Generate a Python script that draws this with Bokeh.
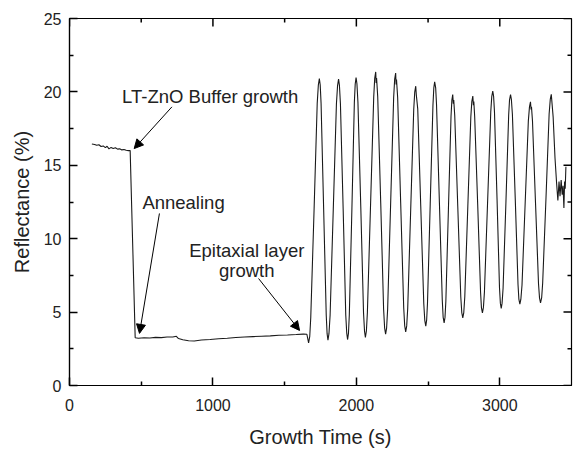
from bokeh.plotting import figure
from bokeh.models import Range1d, Arrow, NormalHead, Label, FixedTicker
from bokeh.embed import file_html
from bokeh.resources import INLINE

# ---- data ----
# LT-ZnO buffer growth plateau
buffer_t = [156, 175, 190, 205, 220, 235, 250, 262, 275, 290, 305, 320, 335, 350,
            365, 380, 395, 410, 423]
buffer_r = [16.45, 16.42, 16.36, 16.40, 16.28, 16.32, 16.20, 16.30, 16.12, 16.22,
            16.15, 16.20, 16.10, 16.12, 16.05, 16.08, 16.02, 16.00, 16.00]

# annealing plateau
anneal_t = [458, 480, 520, 560, 600, 640, 680, 720, 745, 760, 790, 830, 870, 920,
            980, 1040, 1100, 1160, 1220, 1280, 1340, 1400, 1460, 1520, 1580, 1630,
            1655, 1667]
anneal_r = [3.25, 3.22, 3.25, 3.24, 3.28, 3.26, 3.30, 3.30, 3.35, 3.20, 3.12, 3.05,
            3.03, 3.10, 3.13, 3.18, 3.22, 3.27, 3.30, 3.33, 3.36, 3.38, 3.42, 3.44,
            3.47, 3.50, 3.49, 2.90]

# epitaxial layer growth oscillations
epi_t = [1675, 1682, 1705, 1727, 1735, 1742,
         1748, 1754, 1772, 1790, 1796, 1802,
         1809, 1817, 1839, 1861, 1869, 1876,
         1882, 1889, 1908, 1926, 1933, 1939,
         1945, 1951, 1969, 1986, 1992, 1998,
         2004, 2011, 2031, 2050, 2057, 2063,
         2070, 2077, 2099, 2121, 2128, 2135, 2138, 2141,
         2149, 2170, 2190, 2197, 2204,
         2211, 2218, 2239, 2260, 2267, 2274, 2277, 2280,
         2288, 2309, 2330, 2337, 2344,
         2351, 2358, 2379, 2400, 2407, 2414, 2418,
         2428, 2449, 2470, 2477, 2484,
         2490, 2496, 2515, 2534, 2540, 2546,
         2553, 2559, 2579, 2599, 2605, 2612,
         2618, 2624, 2642, 2660, 2666, 2672, 2676,
         2679, 2686, 2707, 2728, 2735, 2742,
         2749, 2756, 2777, 2798, 2805, 2812, 2816,
         2819, 2825, 2846, 2866, 2872, 2879,
         2886, 2893, 2915, 2937, 2944, 2951,
         2957, 2963, 2981, 2998, 3004, 3010,
         3016, 3023, 3043, 3062, 3068, 3075,
         3081, 3088, 3108, 3127, 3133, 3140,
         3147, 3155, 3177, 3199, 3207, 3214, 3218,
         3221, 3228, 3249, 3270, 3277, 3284,
         3292, 3299, 3322, 3344, 3352, 3359,
         3372, 3385, 3396, 3405, 3413, 3420, 3428, 3435, 3441, 3447, 3452, 3456, 3461]
epi_r = [3.34, 4.61, 11.90, 19.20, 20.47, 20.91,
         20.47, 19.22, 12.00, 4.78, 3.53, 3.09,
         3.53, 4.78, 11.98, 19.18, 20.43, 20.87,
         20.44, 19.18, 12.00, 4.82, 3.56, 3.13,
         3.57, 4.83, 12.06, 19.28, 20.54, 20.98,
         20.55, 19.30, 12.12, 4.95, 3.70, 3.27,
         3.71, 4.99, 12.32, 19.64, 20.92, 21.36, 20.60, 20.95,
         19.66, 12.42, 5.19, 3.93, 3.49,
         3.93, 5.18, 12.39, 19.60, 20.85, 21.29, 20.50, 20.85,
         19.61, 12.47, 5.33, 4.08, 3.65,
         4.06, 5.24, 12.02, 18.80, 19.98, 20.39, 19.80,
         18.84, 12.21, 5.59, 4.44, 4.04,
         4.45, 5.62, 12.36, 19.10, 20.27, 20.68,
         20.28, 19.12, 12.47, 5.82, 4.66, 4.26,
         4.64, 5.74, 12.04, 18.34, 19.44, 19.82, 19.20,
         19.45, 18.37, 12.21, 6.05, 4.97, 4.60,
         4.97, 6.04, 12.16, 18.27, 19.34, 19.71, 19.10,
         19.35, 18.31, 12.33, 6.35, 5.31, 4.95,
         5.32, 6.38, 12.50, 18.62, 19.68, 20.05,
         19.69, 18.64, 12.65, 6.66, 5.61, 5.25,
         5.61, 6.63, 12.54, 18.44, 19.46, 19.82,
         19.47, 18.46, 12.68, 6.90, 5.89, 5.54,
         5.88, 6.85, 12.43, 18.01, 18.98, 19.32, 18.80,
         18.98, 18.02, 12.47, 6.93, 5.97, 5.63,
         5.98, 6.98, 12.74, 18.49, 19.49, 19.84,
         18.30, 15.50, 13.80, 12.60, 13.90, 12.90, 14.00, 13.00, 13.60, 12.10, 13.90,
         13.40, 14.90]

time_s = buffer_t + anneal_t + epi_t
reflectance_pct = buffer_r + anneal_r + epi_r

x_ticks = [0, 1000, 2000, 3000]
x_minor = [500, 1500, 2500]
y_ticks = [0, 5, 10, 15, 20, 25]
y_minor = [2.5, 7.5, 12.5, 17.5, 22.5]
X_MIN, X_MAX = 0, 3500
Y_MIN, Y_MAX = 0, 25

FONT = "Liberation Sans"

W, H = 575, 450
BL, BR, BT, BB = 69, 4, 18, 65
FRAME_W = W - BL - BR
FRAME_H = H - BT - BB

p = figure(width=W, height=H, x_range=Range1d(X_MIN, X_MAX),
           y_range=Range1d(Y_MIN, Y_MAX),
           output_backend="svg", toolbar_location=None,
           min_border_left=BL, min_border_right=BR, min_border_top=BT,
           min_border_bottom=BB)
p.xgrid.visible = False
p.ygrid.visible = False
p.outline_line_color = "black"
p.outline_line_width = 1.2
p.background_fill_color = "white"
p.border_fill_color = "white"

p.line(time_s, reflectance_pct, line_color="#1a1a1a", line_width=1.1)

# inward ticks on top and right sides, lengths given in pixels
MAJ_PX, MIN_PX = 8, 4
dy_maj = MAJ_PX * (Y_MAX - Y_MIN) / FRAME_H
dy_min = MIN_PX * (Y_MAX - Y_MIN) / FRAME_H
dx_maj = MAJ_PX * (X_MAX - X_MIN) / FRAME_W
dx_min = MIN_PX * (X_MAX - X_MIN) / FRAME_W
TICK = dict(line_color="black", line_width=1.5)

def vticks(xs, y0, y1):
    p.segment(x0=xs, x1=xs, y0=[y0] * len(xs), y1=[y1] * len(xs), **TICK)

def hticks(ys, x0, x1):
    p.segment(x0=[x0] * len(ys), x1=[x1] * len(ys), y0=ys, y1=ys, **TICK)

vticks(x_ticks, Y_MAX, Y_MAX - dy_maj)
vticks(x_minor, Y_MAX, Y_MAX - dy_min)
hticks(y_ticks, X_MAX, X_MAX - dx_maj)
hticks(y_minor, X_MAX, X_MAX - dx_min)

def style_axis(ax, ticks, minor):
    ax.ticker = FixedTicker(ticks=ticks, minor_ticks=minor)
    ax.major_tick_in = MAJ_PX
    ax.major_tick_out = 0
    ax.minor_tick_in = MIN_PX
    ax.minor_tick_out = 0
    ax.major_tick_line_color = "black"
    ax.minor_tick_line_color = "black"
    ax.major_tick_line_width = 1.5
    ax.minor_tick_line_width = 1.5
    ax.axis_line_color = "black"
    ax.axis_line_width = 1.2
    ax.major_label_text_font = FONT
    ax.axis_label_text_font = FONT
    ax.axis_label_text_font_style = "normal"
    ax.major_label_text_color = "#222222"
    ax.axis_label_text_color = "#222222"
    ax.major_label_text_font_size = "16px"
    ax.axis_label_text_font_size = "20px"

xa = p.xaxis[0]
ya = p.yaxis[0]
style_axis(xa, x_ticks, x_minor)
style_axis(ya, y_ticks, y_minor)
xa.axis_label = "Growth Time (s)"
ya.axis_label = "Reflectance (%)"
xa.major_label_standoff = 13
ya.major_label_standoff = 8
xa.axis_label_standoff = 12
ya.axis_label_standoff = 8

def arrow(x0, y0, x1, y1):
    p.add_layout(Arrow(end=NormalHead(size=9, fill_color="black", line_color="black",
                                      line_width=1),
                       x_start=x0, y_start=y0, x_end=x1, y_end=y1,
                       line_color="black", line_width=1))

arrow(714, 18.98, 451, 16.14)
arrow(627, 11.72, 488, 3.55)
arrow(1318, 7.29, 1604, 3.75)

def label(x, y, text):
    p.add_layout(Label(x=x, y=y, text=text, text_align="center",
                       text_baseline="alphabetic", text_font=FONT,
                       text_font_size="18.5px", text_color="#222222"))

label(981, 19.66, "LT-ZnO Buffer growth")
label(795, 12.44, "Annealing")
label(1236, 9.17, "Epitaxial layer")
label(1236, 7.81, "growth")

open("out.html", "w").write(file_html(p, INLINE))
